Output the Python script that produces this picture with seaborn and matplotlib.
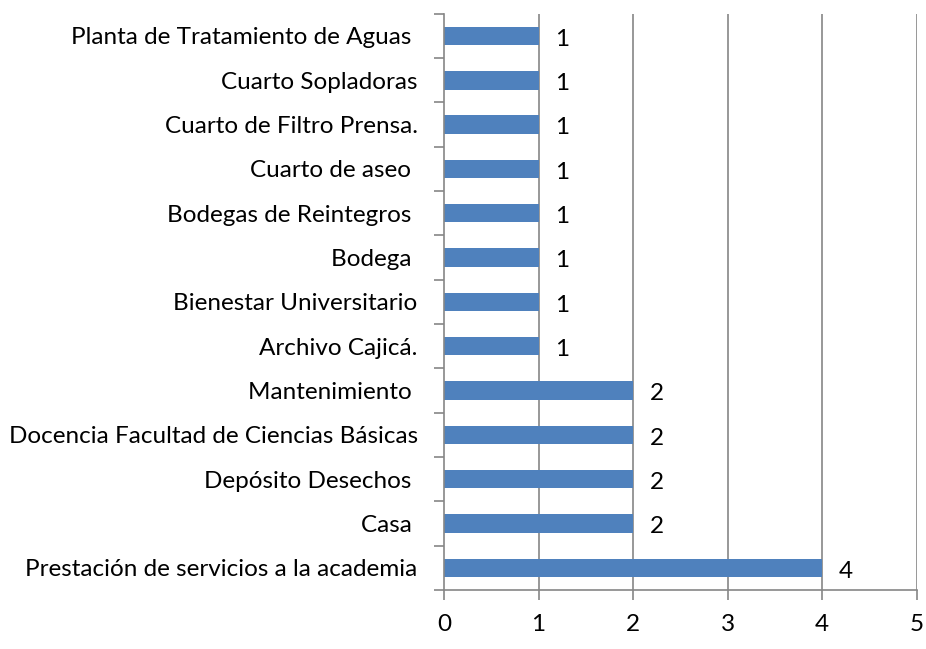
import numpy as np
import pandas as pd
import matplotlib
matplotlib.use("Agg")
import matplotlib.pyplot as plt
import seaborn as sns

categories = [
    "Planta de Tratamiento de Aguas ",
    "Cuarto Sopladoras",
    "Cuarto de Filtro Prensa.",
    "Cuarto de aseo ",
    "Bodegas de Reintegros ",
    "Bodega ",
    "Bienestar Universitario",
    "Archivo Cajicá.",
    "Mantenimiento ",
    "Docencia Facultad de Ciencias Básicas",
    "Depósito Desechos ",
    "Casa ",
    "Prestación de servicios a la academia",
]
values = [1, 1, 1, 1, 1, 1, 1, 1, 2, 2, 2, 2, 4]
x_ticks = [0, 1, 2, 3, 4, 5]

sns.set_style("white")
plt.rcParams["font.family"] = ["Lato", "DejaVu Sans"]
plt.rcParams["text.color"] = "black"

df = pd.DataFrame({"area": categories, "n": values})

fig = plt.figure(figsize=(9.26, 6.49), dpi=100)
ax = fig.add_axes([0.4795, 0.0909, 0.5105, 0.888])

sns.barplot(data=df, y="area", x="n", order=categories, orient="h",
            color="#4f81bd", saturation=1, width=0.42, linewidth=0, ax=ax)

grey = "#868686"
fs = 17.5
ax.set_xlim(0, 5)
ax.set_ylim(len(categories) - 0.5, -0.5)
ax.set_xticks(x_ticks)
ax.set_xlabel("")
ax.set_ylabel("")
for x in x_ticks[1:]:
    ax.axvline(x, color=grey, lw=1.2, zorder=0)

# y ticks sit between categories
ax.set_yticks(np.arange(len(categories)))
ax.set_yticklabels(categories)
ax.set_yticks(np.arange(-0.5, len(categories)), minor=True)
ax.tick_params(axis="y", which="major", left=True, length=0, pad=19, labelsize=fs, labelcolor="black")
ax.tick_params(axis="y", which="minor", left=True, length=7, width=1.2, color=grey, direction="out")
ax.tick_params(axis="x", bottom=True, length=7, width=1.2, color=grey, direction="out",
               pad=10, labelsize=fs, labelcolor="black")

for s in ["top", "right"]:
    ax.spines[s].set_visible(False)
for s in ["left", "bottom"]:
    ax.spines[s].set_color(grey)
    ax.spines[s].set_linewidth(1.2)

for i, v in enumerate(values):
    ax.annotate(str(v), (v, i), xytext=(12, -1), textcoords="offset points",
                ha="left", va="center_baseline", fontsize=fs, color="black")

fig.savefig("out.png", dpi=100)
